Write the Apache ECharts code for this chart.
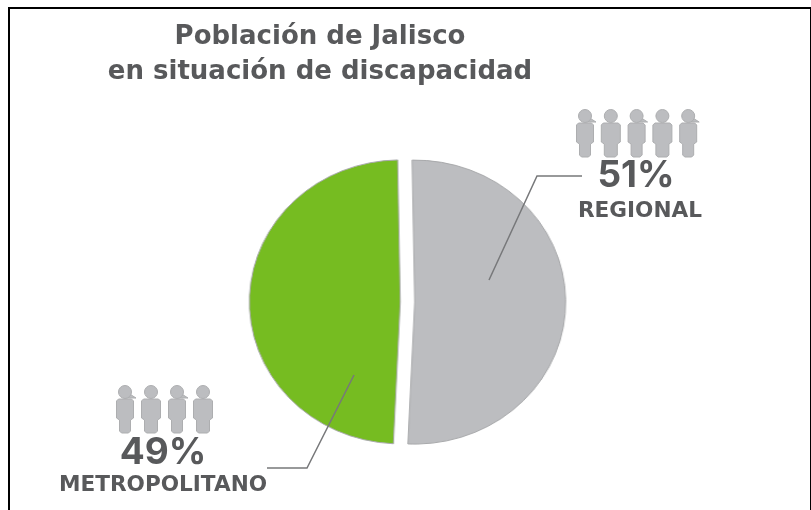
<!DOCTYPE html>
<html>
<head>
<meta charset="utf-8">
<style>
html, body { margin: 0; padding: 0; background: #fff; }
#pie, #chart { position: absolute; left: 0; top: 0; width: 811px; height: 510px; }
/* el pastel original esta un poco estirado a lo ancho */
#pie { transform: scaleX(1.063); transform-origin: 407.5px 302px; }
</style>
<script src="https://cdn.jsdelivr.net/npm/echarts@6/dist/echarts.min.js"></script>
</head>
<body>
<div id="pie"></div>
<div id="chart"></div>
<script>
var categories = ['REGIONAL', 'METROPOLITANO'];
var values = [51, 49];
var sliceColors = ['#bcbdc0', '#76bc21'];
var titleLines = ['Población de Jalisco', 'en situación de discapacidad'];
// f = con pelo, m = sin pelo
var peopleRegional = ['f', 'm', 'f', 'm', 'f'];
var peopleMetro = ['f', 'm', 'f', 'm'];

var textFont = '"DejaVu Sans", sans-serif';
var numberFont = 'Inter, sans-serif';
var darkGrey = '#58595b';
var iconStyle = { fill: '#bcbdc0', stroke: '#adaeb0', lineWidth: 1 };

function person(kind, cx, top) {
    var w = kind === 'm' ? 9.5 : 8.5;
    var b = top + 7;
    var parts = [{
        type: 'polygon',
        shape: {
            points: [
                [cx - w + 2, b], [cx + w - 2, b], [cx + w, b + 2],
                [cx + w, b + 19], [cx + w - 3, b + 21], [cx + w - 3, b + 32], [cx + w - 5, b + 34],
                [cx - w + 5, b + 34], [cx - w + 3, b + 32], [cx - w + 3, b + 21],
                [cx - w, b + 19], [cx - w, b + 2]
            ]
        },
        style: iconStyle
    }];
    if (kind === 'f') {
        parts.push({
            type: 'polygon',
            shape: { points: [[cx, top - 1], [cx + 11, top + 6], [cx, top + 6]] },
            style: iconStyle
        });
    }
    parts.push({
        type: 'circle',
        shape: { cx: cx, cy: top, r: 6.5 },
        style: iconStyle
    });
    return { type: 'group', children: parts };
}

function people(list, startX, step, top) {
    var arr = [];
    for (var i = 0; i < list.length; i++) {
        arr.push(person(list[i], startX + i * step, top));
    }
    return arr;
}

function label(text, x, y, size, weight, font) {
    return {
        type: 'text',
        x: x,
        y: y,
        z: 20,
        style: {
            text: text,
            fill: darkGrey,
            font: weight + ' ' + size + 'px ' + (font || textFont),
            textAlign: 'center',
            textVerticalAlign: 'middle'
        }
    };
}

function leader(points) {
    return {
        type: 'polyline',
        z: 15,
        shape: { points: points },
        style: { stroke: '#77787a', lineWidth: 1.5, fill: null }
    };
}

var graphics = [{
    type: 'rect',
    shape: { x: 9, y: 8, width: 802, height: 510 },
    style: { fill: null, stroke: '#000', lineWidth: 2 }
}];
graphics.push(label(titleLines[0], 320, 37, 26, 700));
graphics.push(label(titleLines[1], 320, 72, 26, 700));
graphics.push(leader([[489, 280], [537, 176], [582, 176]]));
graphics.push(leader([[354, 375], [307, 468], [267, 468]]));
graphics = graphics.concat(people(peopleRegional, 585, 25.8, 116));
graphics = graphics.concat(people(peopleMetro, 125, 26, 392));
graphics.push(label(values[0] + '%', 636, 176, 37, 700, numberFont));
graphics.push(label(categories[0], 640, 211, 21.6, 700));
graphics.push(label(values[1] + '%', 163, 453, 37, 700, numberFont));
graphics.push(label(categories[1], 163, 485, 21.6, 700));

var pie = echarts.init(document.getElementById('pie'));
pie.setOption({
    animation: false,
    backgroundColor: '#fff',
    series: [{
        type: 'pie',
        center: [407.5, 302],
        radius: [0, 142],
        startAngle: 91,
        clockwise: true,
        selectedMode: 'multiple',
        selectedOffset: 6.8,
        label: { show: false },
        labelLine: { show: false },
        emphasis: { disabled: true },
        data: categories.map(function (name, i) {
            return {
                name: name,
                value: values[i],
                selected: true,
                itemStyle: { color: sliceColors[i], borderColor: '#a9aaac', borderWidth: 1 }
            };
        })
    }]
});

var chart = echarts.init(document.getElementById('chart'));
chart.setOption({
    animation: false,
    graphic: graphics
});
</script>
</body>
</html>
